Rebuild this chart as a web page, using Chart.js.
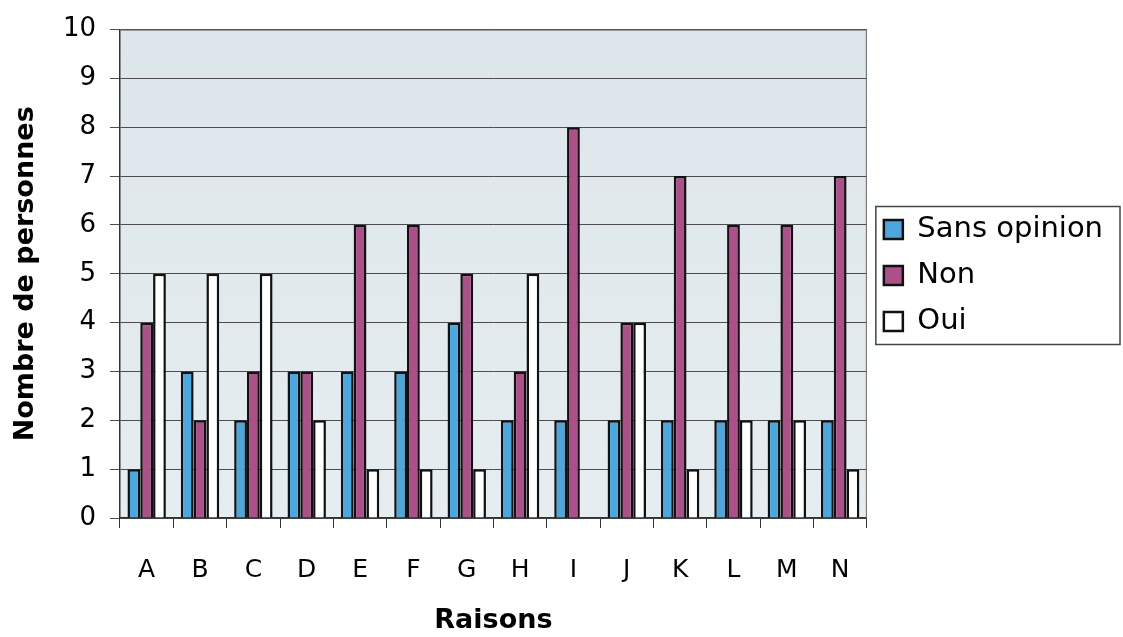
<!DOCTYPE html>
<html>
<head>
<meta charset="utf-8">
<script src="https://cdn.jsdelivr.net/npm/chart.js@4"></script>
<style>
  html, body { margin: 0; padding: 0; background: #ffffff; }
  #wrap { width: 1123px; height: 637px; }
</style>
</head>
<body>
<div id="wrap"><canvas id="graphique"></canvas></div>
<script>
// Raisons (catégories) et réponses
const raisons = ['A', 'B', 'C', 'D', 'E', 'F', 'G', 'H', 'I', 'J', 'K', 'L', 'M', 'N'];
const sansOpinion = [1, 3, 2, 3, 3, 3, 4, 2, 2, 2, 2, 2, 2, 2];
const non = [4, 2, 3, 3, 6, 6, 5, 3, 8, 4, 7, 6, 6, 7];
const oui = [5, 5, 5, 2, 1, 1, 1, 5, 0, 4, 1, 2, 2, 1];
const graduations = [0, 1, 2, 3, 4, 5, 6, 7, 8, 9, 10];

Chart.defaults.font.family = '"DejaVu Sans", sans-serif';
Chart.defaults.color = '#000000';

// fond gris-bleu de la zone de tracé + cadre
const fondZone = {
  id: 'fondZone',
  beforeDraw(chart) {
    const { ctx, chartArea: a } = chart;
    const g = ctx.createLinearGradient(0, a.top, 0, a.bottom);
    g.addColorStop(0, '#dde6eb');
    g.addColorStop(1, '#e6edf0');
    ctx.save();
    ctx.fillStyle = g;
    ctx.fillRect(a.left, a.top, a.right - a.left, a.bottom - a.top);
    ctx.restore();
  },
  afterDatasetsDraw(chart) {
    const { ctx, chartArea: a } = chart;
    ctx.save();
    ctx.strokeStyle = '#666666';
    ctx.lineWidth = 1;
    ctx.beginPath();
    ctx.moveTo(a.left, a.top + 0.5);
    ctx.lineTo(a.right - 0.5, a.top + 0.5);
    ctx.lineTo(a.right - 0.5, a.bottom);
    ctx.stroke();
    ctx.restore();
  }
};

// cadre autour de la légende
const cadreLegende = {
  id: 'cadreLegende',
  afterDraw(chart) {
    const l = chart.legend;
    if (!l || !l.legendHitBoxes.length) return;
    const boxes = l.legendHitBoxes;
    const first = boxes[0];
    const last = boxes[boxes.length - 1];
    const mid = (first.top + last.top + last.height) / 2;
    const ctx = chart.ctx;
    ctx.save();
    ctx.strokeStyle = '#444444';
    ctx.lineWidth = 1.5;
    ctx.strokeRect(first.left - 8, mid - 69, 1120 - (first.left - 8), 138);
    ctx.restore();
  }
};

new Chart(document.getElementById('graphique'), {
  type: 'bar',
  data: {
    labels: raisons,
    datasets: [
      { label: 'Sans opinion', data: sansOpinion, backgroundColor: '#4aa8df', borderColor: '#111111', borderWidth: 2.5 },
      { label: 'Non', data: non, backgroundColor: '#ad4f88', borderColor: '#111111', borderWidth: 2.5 },
      { label: 'Oui', data: oui, backgroundColor: '#ffffff', borderColor: '#111111', borderWidth: 2.5 }
    ]
  },
  plugins: [fondZone, cadreLegende],
  options: {
    responsive: true,
    maintainAspectRatio: false,
    animation: false,
    layout: { padding: { top: 29, right: 10, left: 0, bottom: 0 } },
    datasets: { bar: { categoryPercentage: 0.72, barPercentage: 1.0 } },
    plugins: {
      legend: {
        position: 'right',
        align: 'start',
        title: { display: true, text: ' ', font: { size: 10 }, padding: { top: 157, bottom: 0 } },
        labels: {
          font: { size: 29 },
          boxWidth: 19,
          boxHeight: 19,
          padding: 17,
          color: '#000000'
        }
      },
      tooltip: { enabled: false }
    },
    scales: {
      x: {
        afterFit(axis) { axis.height = 119; },
        grid: { display: true, drawOnChartArea: false, color: '#333333', tickLength: 10, offset: true },
        border: { color: '#333333', width: 1.5 },
        ticks: { font: { size: 25 }, padding: 27, color: '#000000' },
        title: { display: true, text: 'Raisons', font: { size: 27, weight: 'bold' }, padding: { top: 0, bottom: 0 } }
      },
      y: {
        min: 0,
        max: 10,
        afterBuildTicks(axis) { axis.ticks = graduations.map(v => ({ value: v })); },
        afterFit(axis) { axis.width = 120; },
        grid: { color: '#4d4d4d', lineWidth: 1, tickLength: 10 },
        border: { color: '#333333', width: 1.5 },
        ticks: { font: { size: 26 }, padding: 14, color: '#000000' },
        title: { display: true, text: 'Nombre de personnes', font: { size: 27, weight: 'bold' }, padding: { top: 10, bottom: 0 } }
      }
    }
  }
});
</script>
</body>
</html>
